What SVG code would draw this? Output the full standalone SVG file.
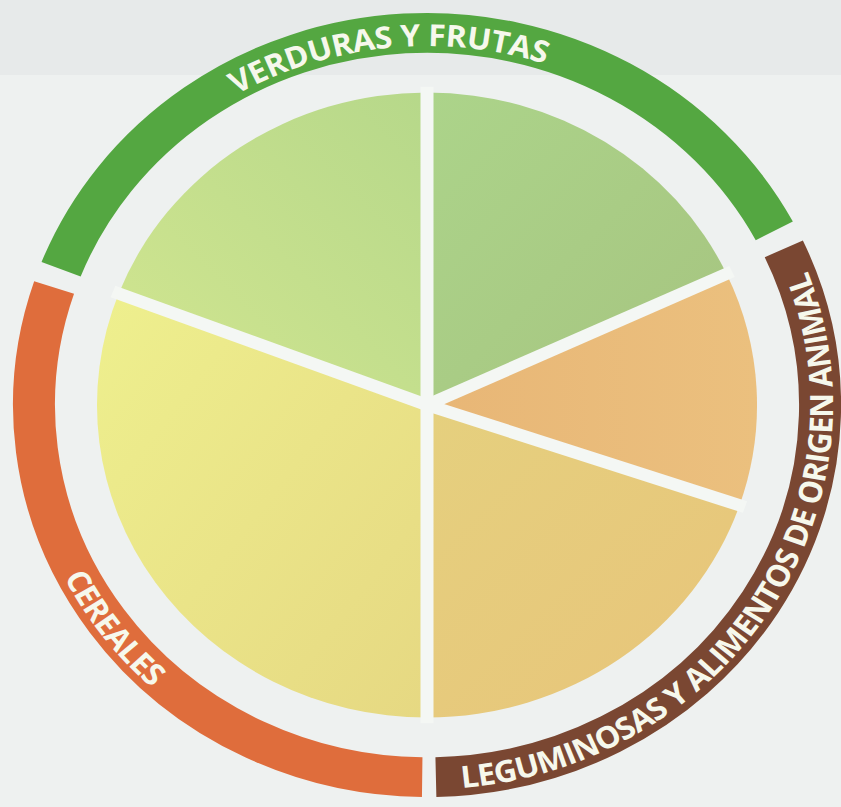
<svg xmlns="http://www.w3.org/2000/svg" width="841" height="807" viewBox="0 0 841 807">
  <defs>
    <linearGradient id="gUL" x1="0" y1="1" x2="1" y2="0">
      <stop offset="0" stop-color="#d2e690"/>
      <stop offset="1" stop-color="#b6d88a"/>
    </linearGradient>
    <linearGradient id="gUR" x1="0" y1="0" x2="1" y2="1">
      <stop offset="0" stop-color="#acd48a"/>
      <stop offset="1" stop-color="#a6c480"/>
    </linearGradient>
    <linearGradient id="gOR" x1="0" y1="0" x2="1" y2="0">
      <stop offset="0" stop-color="#e8b676"/>
      <stop offset="1" stop-color="#ebc07e"/>
    </linearGradient>
    <linearGradient id="gLR" x1="0" y1="0" x2="1" y2="1">
      <stop offset="0" stop-color="#e5d07e"/>
      <stop offset="1" stop-color="#e8c47a"/>
    </linearGradient>
    <linearGradient id="gL" x1="0" y1="0" x2="1" y2="1">
      <stop offset="0" stop-color="#eef08e"/>
      <stop offset="1" stop-color="#e6d882"/>
    </linearGradient>
    <path id="pV" d="M-379,0 A379,379 0 0 1 379,0"/>
    <path id="pC" d="M-406,0 A406,406 0 0 0 406,0"/>
    <path id="pL" d="M-70.5,399.8 A406,406 0 0 0 311,-261"/>
  </defs>
  <style>
    .ring { fill: none; stroke-width: 42; stroke-linecap: butt; }
    .div { stroke: #f4f7f4; stroke-width: 13; stroke-linecap: butt; }
    .lbl { font-family: "Open Sans", "Liberation Sans", sans-serif; font-weight: 700; font-size: 32px; fill: #f6f8ec; }
  </style>
  <rect width="841" height="807" fill="#eef1f0"/>
  <rect width="841" height="75" fill="#e7eaea"/>
  <g transform="translate(427,405) scale(1,0.947)">
    <g id="plate">
      <path id="sector-verduras-1" d="M0,0 L-308.3,-117.7 A330,330 0 0 1 0,-330 Z" fill="url(#gUL)"/>
      <path id="sector-verduras-2" d="M0,0 L0,-330 A330,330 0 0 1 299.6,-138.4 Z" fill="url(#gUR)"/>
      <path id="sector-origen-animal" d="M0,0 L299.6,-138.4 A330,330 0 0 1 312.6,105.8 Z" fill="url(#gOR)"/>
      <path id="sector-leguminosas" d="M0,0 L312.6,105.8 A330,330 0 0 1 0,330 Z" fill="url(#gLR)"/>
      <path id="sector-cereales" d="M0,0 L0,330 A330,330 0 0 1 -308.3,-117.7 Z" fill="url(#gL)"/>
    </g>
    <g id="dividers">
      <line class="div" x1="0" y1="0" x2="0" y2="-336"/>
      <line class="div" x1="0" y1="0" x2="0" y2="336"/>
      <line class="div" x1="0" y1="0" x2="-314" y2="-119.9"/>
      <line class="div" x1="0" y1="0" x2="305" y2="-141"/>
      <line class="div" x1="0" y1="0" x2="318" y2="107.7"/>
    </g>
    <g id="ring-verduras-frutas">
      <path class="ring" stroke="#54a741" d="M-365.9,-143.4 A393,393 0 0 1 347.3,-183.9"/>
      <text class="lbl"><textPath href="#pV" startOffset="395.6" textLength="319.5" lengthAdjust="spacing">VERDURAS Y FRUTAS</textPath></text>
    </g>
    <g id="ring-cereales">
      <path class="ring" stroke="#df6d3c" d="M-4.8,393 A393,393 0 0 1 -372.9,-124.1"/>
      <text class="lbl"><textPath href="#pC" startOffset="188.5" textLength="147" lengthAdjust="spacing">CEREALES</textPath></text>
    </g>
    <g id="ring-leguminosas">
      <path class="ring" stroke="#7a4732" d="M356.8,-164.9 A393,393 0 0 1 8.9,392.9"/>
      <text class="lbl"><textPath href="#pL" startOffset="106" textLength="747" lengthAdjust="spacing">LEGUMINOSAS Y ALIMENTOS DE ORIGEN ANIMAL</textPath></text>
    </g>
  </g>
</svg>
